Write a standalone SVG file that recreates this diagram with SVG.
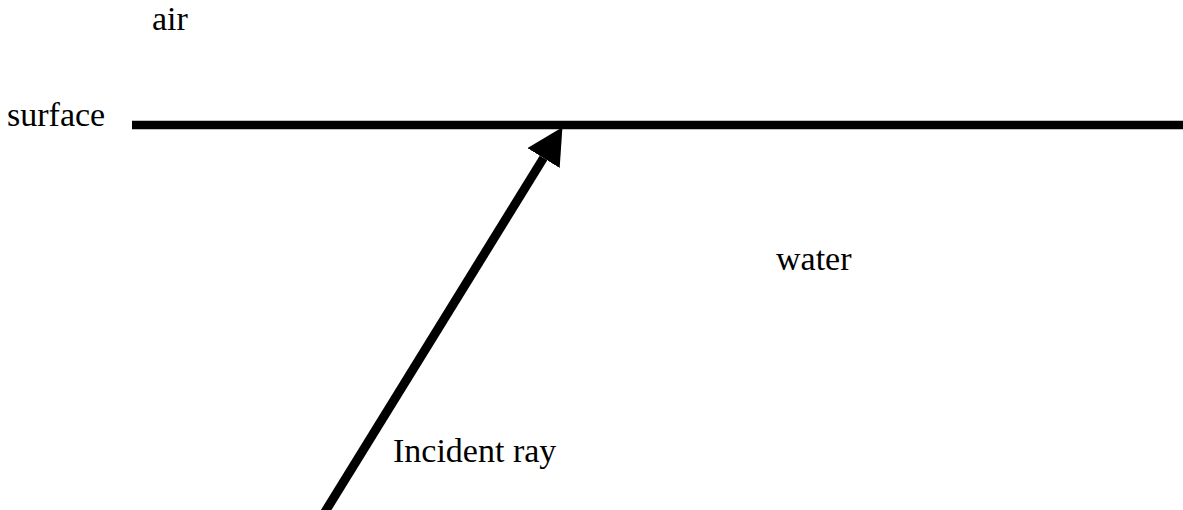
<svg xmlns="http://www.w3.org/2000/svg" width="1183" height="510" viewBox="0 0 1183 510">
  <style>
    .lbl { font-family: "Liberation Serif", "Times New Roman", serif; font-size: 34px; fill: #000; }
    .ln { stroke: #000; fill: none; }
  </style>
  <defs>
    <marker id="head" markerUnits="userSpaceOnUse" markerWidth="37" markerHeight="38" refX="0" refY="19" orient="auto">
      <path d="M0,0 L36,19 L0,38 z" fill="#000"/>
    </marker>
  </defs>
  <rect width="1183" height="510" fill="#fff"/>
  <g id="labels">
    <text id="air" class="lbl" x="152" y="30">air</text>
    <text id="surface-label" class="lbl" x="7" y="126">surface</text>
    <text id="water" class="lbl" x="776" y="270">water</text>
    <text id="incident-label" class="lbl" x="393" y="462">Incident ray</text>
  </g>
  <g id="surface">
    <line class="ln" x1="132" y1="125" x2="1183" y2="125" stroke-width="8.5"/>
  </g>
  <g id="connectors">
    <line class="ln" x1="320" y1="520" x2="543.5" y2="158" stroke-width="9" marker-end="url(#head)"/>
  </g>
</svg>
